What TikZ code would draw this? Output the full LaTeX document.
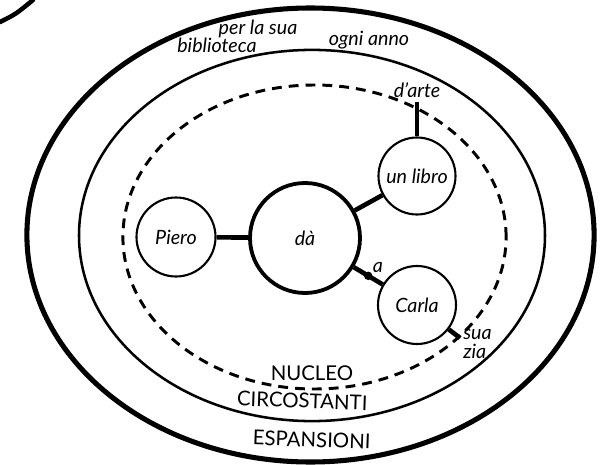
\documentclass[tikz,border=0pt]{standalone}
\usepackage{fontspec}
\setmainfont{Lato}
\begin{document}
\begin{tikzpicture}[line join=round, line cap=round, font=\fontsize{14}{16}\selectfont,
		valenza/.style={circle, draw, line width=1.5pt, minimum size=1.95cm, inner sep=0pt, font=\fontsize{14}{16}\selectfont\itshape},
		legame/.style={line width=3.3pt, line cap=butt},
		pallino/.style={circle, fill, minimum size=6pt, inner sep=0pt},
		etichetta/.style={font=\fontsize{14}{16}\selectfont\itshape, inner sep=0pt},
		zona/.style={font=\fontsize{14.5}{16}\selectfont, inner sep=0pt, anchor=base}]
		\useasboundingbox (-7.625,-5.65) rectangle (7.525,5.95);
		% Espansioni
		\draw[line width=3.6pt] (0.1375,0.075) ellipse [x radius=7.09, y radius=5.675];
		\draw[line width=3.2pt] (-7.625,5.4) .. controls (-7.225,5.6) .. (-6.8,5.95);
		\node[zona, rotate=-2] (espansioni) at (0.16,-5.225) {ESPANSIONI};
		\node[etichetta, anchor=base] (perla) at (-1.175,5.075) {per la sua};
		\node[etichetta, anchor=base] (biblio) at (-2.2,4.63) {biblioteca};
		\node[etichetta, anchor=base] (ogni) at (1.6,4.825) {ogni anno};
		% Circostanti
		\draw[line width=1.8pt] (0.175,0.0625) ellipse [x radius=5.825, y radius=4.64];
		\node[zona, rotate=-2] (circostanti) at (-0.075,-4.25) {CIRCOSTANTI};
		% Nucleo
		\draw[line width=2.1pt, line cap=butt, dash pattern=on 7pt off 5pt] (0.2375,0.025) ellipse [x radius=4.79, y radius=3.8];
		\node[zona] (nucleo) at (0.175,-3.55) {NUCLEO};
		% Valenze
		\node[valenza, line width=2.7pt, minimum size=2.75cm] (da) at (0,0) {dà};
		\node[valenza, minimum size=1.975cm] (piero) at (-3.225,0.025) {Piero};
		\node[valenza, minimum size=1.925cm] (libro) at (2.8,1.55) {un libro};
		\node[valenza] (carla) at (2.8,-1.675) {Carla};
		\draw[legame] (piero) -- (da);
		\draw[legame] (da) -- (libro);
		\draw[legame] (da) -- node[pallino] (prep) {} (carla);
		\node[etichetta] (a) at (1.825,-0.75) {a};
		% Espansioni dei circostanti
		\coordinate (arte) at (2.8,3.4);
		\draw[legame] (libro) -- (arte);
		\node[etichetta, above, yshift=3pt] (darte) at (arte) {d'arte};
		\coordinate (zia) at (3.875,-2.5);
		\draw[legame] (carla) -- (zia);
		\node[etichetta, anchor=west, align=left] (suazia) at (3.95,-2.65) {sua\\[-2pt]zia};
	\end{tikzpicture}
\end{document}
